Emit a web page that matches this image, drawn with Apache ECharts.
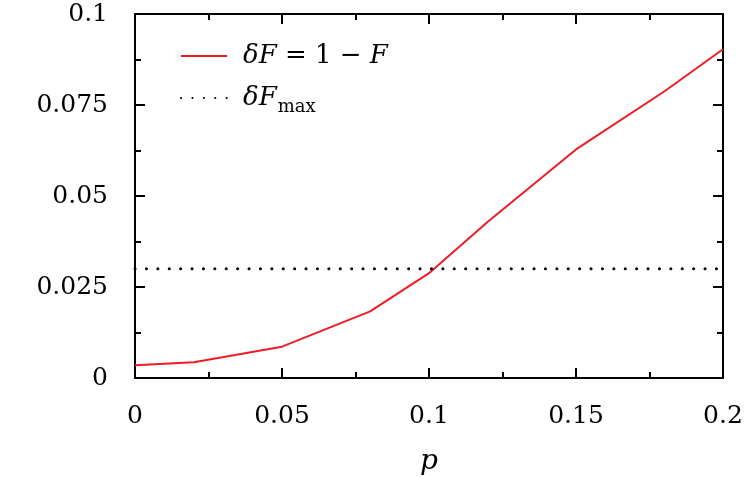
<!DOCTYPE html>
<html>
<head>
<meta charset="utf-8">
<script src="https://cdn.jsdelivr.net/npm/echarts@6/dist/echarts.min.js"></script>
<style>
  html, body { margin: 0; padding: 0; background: #fff; }
  #chart { width: 747px; height: 477px; }
</style>
</head>
<body>
<div id="chart"></div>
<script>
// error probability p vs. infidelity
const pValues = [0, 0.02, 0.05, 0.08, 0.1, 0.12, 0.15, 0.18, 0.2];
const deltaF = [0.0035, 0.0043, 0.0086, 0.0183, 0.0288, 0.0429, 0.0628, 0.0787, 0.0903];
const deltaFMax = 0.03;
const xTicks = { min: 0, max: 0.2, interval: 0.05 };
const yTicks = { min: 0, max: 0.1, interval: 0.025 };

const font = "DejaVu Serif";
const chart = echarts.init(document.getElementById("chart"));

const axisBase = {
  type: "value",
  axisLine: { show: true, onZero: false, lineStyle: { color: "#000", width: 2 } },
  axisTick: { show: true, inside: true, length: 10, lineStyle: { color: "#000", width: 2 } },
  minorTick: { show: true, splitNumber: 2, length: 6, lineStyle: { color: "#000", width: 2 } },
  splitLine: { show: false },
};

const fmt = (v) => String(+v.toFixed(4));

chart.setOption({
  animation: false,
  grid: { left: 135, right: 24, top: 14, bottom: 99, outerBoundsMode: "none", containLabel: false },
  legend: {
    left: 175,
    top: 38,
    orient: "vertical",
    itemWidth: 46,
    itemHeight: 14,
    itemGap: 16,
    itemStyle: { opacity: 0 },
    data: ["dF", "dFmax"],
    formatter: (name) => name === "dF" ? "{it|δF} {up|= 1 −} {it|F}" : "{it|δF}{sub|max}",
    textStyle: {
      fontFamily: font,
      fontSize: 26,
      color: "#000",
      padding: [0, 0, 0, 11],
      rich: {
        it: { fontFamily: font, fontStyle: "italic", fontSize: 26, color: "#000", lineHeight: 36 },
        up: { fontFamily: font, fontSize: 26, color: "#000", lineHeight: 36 },
        sub: { fontFamily: font, fontSize: 18, color: "#000", lineHeight: 36, verticalAlign: "bottom", padding: [10, 0, 0, 1] },
      },
    },
  },
  xAxis: [
    Object.assign({}, axisBase, {
      position: "bottom",
      min: xTicks.min, max: xTicks.max, interval: xTicks.interval,
      axisLabel: { fontFamily: font, fontSize: 25, color: "#000", margin: 26, formatter: fmt },
      name: "p",
      nameLocation: "middle",
      nameGap: 70,
      nameTextStyle: { fontFamily: font, fontStyle: "italic", fontSize: 28, color: "#000" },
    }),
    Object.assign({}, axisBase, {
      position: "top",
      min: xTicks.min, max: xTicks.max, interval: xTicks.interval,
      axisLabel: { show: false },
    }),
  ],
  yAxis: [
    Object.assign({}, axisBase, {
      position: "left",
      min: yTicks.min, max: yTicks.max, interval: yTicks.interval,
      axisLabel: { fontFamily: font, fontSize: 25, color: "#000", margin: 27, formatter: fmt },
    }),
    Object.assign({}, axisBase, {
      position: "right",
      min: yTicks.min, max: yTicks.max, interval: yTicks.interval,
      axisLabel: { show: false },
    }),
  ],
  series: [
    {
      name: "dF",
      type: "line",
      data: pValues.map((p, i) => [p, deltaF[i]]),
      symbol: "none",
      lineStyle: { color: "#ee1c25", width: 2 },
      itemStyle: { color: "#ee1c25" },
    },
    {
      name: "dFmax",
      type: "line",
      data: [[xTicks.min, deltaFMax], [xTicks.max, deltaFMax]],
      symbol: "none",
      lineStyle: { color: "#000", width: 3, type: [0.1, 11.3], cap: "round" },
      itemStyle: { color: "#000" },
    },
  ],
});
</script>
</body>
</html>
